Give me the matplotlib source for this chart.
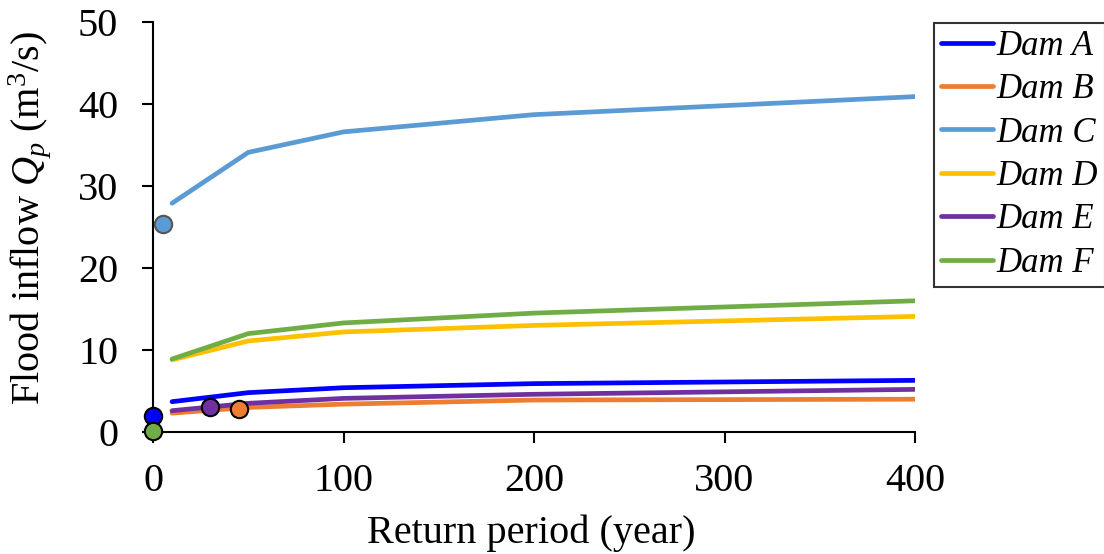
import matplotlib.pyplot as plt

plt.rcParams['font.family'] = ['Liberation Serif', 'DejaVu Serif']
plt.rcParams['mathtext.fontset'] = 'custom'
plt.rcParams['mathtext.it'] = 'Liberation Serif:italic'
plt.rcParams['mathtext.rm'] = 'Liberation Serif'

# return periods (year)
periods = [10, 50, 100, 200, 400]

dams = ['Dam A', 'Dam B', 'Dam C', 'Dam D', 'Dam E', 'Dam F']
colors = ['#0000FF', '#ED7D31', '#5B9BD5', '#FFC000', '#7030A0', '#70AD47']

flows = {
    'Dam A': [3.7, 4.8, 5.4, 5.9, 6.3],
    'Dam B': [2.3, 3.0, 3.4, 3.9, 4.0],
    'Dam C': [27.9, 34.1, 36.6, 38.7, 40.9],
    'Dam D': [8.8, 11.1, 12.2, 13.0, 14.1],
    'Dam E': [2.6, 3.5, 4.1, 4.6, 5.2],
    'Dam F': [8.9, 12.0, 13.3, 14.5, 16.0],
}

# observed events (return period, flow)
obs_x = {'Dam A': 0, 'Dam B': 45, 'Dam C': 5, 'Dam D': None, 'Dam E': 30, 'Dam F': 0}
obs_y = {'Dam A': 2.0, 'Dam B': 2.8, 'Dam C': 25.4, 'Dam D': None, 'Dam E': 3.0, 'Dam F': 0.1}

fig = plt.figure(figsize=(11.04, 5.54), dpi=100)
ax = fig.add_axes([0.1386, 0.2202, 0.6902, 0.7401])

for name, c in zip(dams, colors):
    ax.plot(periods, flows[name], color=c, lw=3.4, label=name, solid_capstyle='round')

for name, c in zip(dams, colors):
    if obs_x[name] is None:
        continue
    ec = '#555555' if name == 'Dam C' else 'black'
    ax.plot(obs_x[name], obs_y[name], 'o', color=c, ms=12.5, mec=ec, mew=1.5,
            clip_on=False, zorder=5)

ax.set_xlim(0, 400)
ax.set_ylim(0, 50)
ax.set_xticks([0, 100, 200, 300, 400])
ax.set_yticks([0, 10, 20, 30, 40, 50])
for s in ['top', 'right']:
    ax.spines[s].set_visible(False)
for s in ['left', 'bottom']:
    ax.spines[s].set_linewidth(1.5)
ax.tick_params(labelsize=29, width=1.5, length=8, direction='out')
ax.tick_params(axis='y', pad=17)
ax.tick_params(axis='x', pad=14)
ax.set_xlabel('Return period (year)', fontsize=29)
ax.set_ylabel(r'Flood inflow $Q_p$ (m$^3$/s)', fontsize=29)
ax.xaxis.set_label_coords(0.497, -0.202)
ax.yaxis.set_label_coords(-0.131, 0.522)

leg = ax.legend(loc='upper left', bbox_to_anchor=(1.025, 0.998),
                prop={'style': 'italic', 'size': 25}, fancybox=False,
                edgecolor='black', handlelength=1.5, handletextpad=0.1,
                borderpad=0.2, labelspacing=0.3, borderaxespad=0)
leg.get_frame().set_linewidth(1.5)

fig.savefig('out.png', dpi=100)
